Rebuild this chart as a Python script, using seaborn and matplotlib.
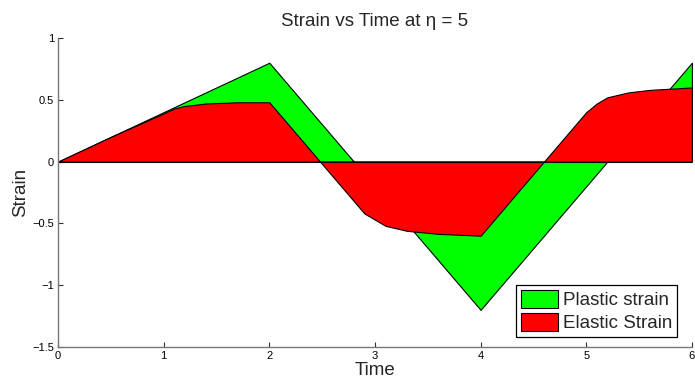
import matplotlib
matplotlib.use("Agg")
import matplotlib.pyplot as plt
import seaborn as sns

# Total strain: triangular loading history
total_t = [0, 2, 4, 6]
total_strain = [0.0, 0.8, -1.2, 0.8]

# Elastic strain response
elastic_t = [0, 0.5, 1.0, 1.1, 1.2, 1.4, 1.7, 2.0, 2.5, 2.9, 3.0, 3.1, 3.3, 3.6,
             4.0, 4.3, 4.6, 4.9, 5.0, 5.1, 5.2, 5.4, 5.6, 6.0]
elastic_strain = [0.0, 0.2, 0.39, 0.43, 0.45, 0.47, 0.48, 0.48, -0.02, -0.42,
                  -0.47, -0.52, -0.56, -0.585, -0.60, -0.30, 0.0, 0.30, 0.40,
                  0.47, 0.52, 0.56, 0.58, 0.60]

x_ticks = [0, 1, 2, 3, 4, 5, 6]
y_ticks = [-1.5, -1, -0.5, 0, 0.5, 1]
y_tick_labels = ["\u22121.5", "\u22121", "\u22120.5", "0", "0.5", "1"]

sns.set_theme(style="ticks")
plt.rcParams["font.family"] = ["Liberation Sans", "DejaVu Sans"]

fig = plt.figure(figsize=(6.95, 3.8), dpi=100)
ax = fig.add_axes([0.0835, 0.087, 0.912, 0.813])

ax.fill_between(total_t, total_strain, 0, facecolor="#00ff00", edgecolor="black",
                linewidth=0.8, label="Plastic strain")
ax.fill_between(elastic_t, elastic_strain, 0, facecolor="#ff0000", edgecolor="black",
                linewidth=0.8, label="Elastic Strain")
sns.lineplot(x=[0, 6], y=[0, 0], ax=ax, color="black", linewidth=0.8)

ax.set_xlim(0, 6)
ax.set_ylim(-1.5, 1)
ax.set_xticks(x_ticks)
ax.set_xticklabels([str(v) for v in x_ticks])
ax.set_yticks(y_ticks)
ax.set_yticklabels(y_tick_labels)
ax.tick_params(direction="in", length=3.6, width=0.8, colors="#333333",
               labelcolor="black", labelsize=8, pad=3)

sns.despine(ax=ax)
for s in ("left", "bottom"):
    ax.spines[s].set_color("#777777")
    ax.spines[s].set_linewidth(1.0)

ax.set_title("Strain vs Time at \u03b7 = 5", fontsize=13.5, pad=9)
ax.set_xlabel("Time", fontsize=13.5, labelpad=1)
ax.set_ylabel("Strain", fontsize=13.5, labelpad=2)

leg = ax.legend(loc="lower right", bbox_to_anchor=(677 / 695, 43 / 380),
                bbox_transform=fig.transFigure, borderaxespad=0,
                fontsize=13.5, frameon=True, fancybox=False,
                edgecolor="black", framealpha=1, borderpad=0.25, handlelength=2.0,
                handleheight=1.1, handletextpad=0.25, labelspacing=0.2)
leg.get_frame().set_linewidth(0.9)

fig.savefig("out.png", dpi=100)
